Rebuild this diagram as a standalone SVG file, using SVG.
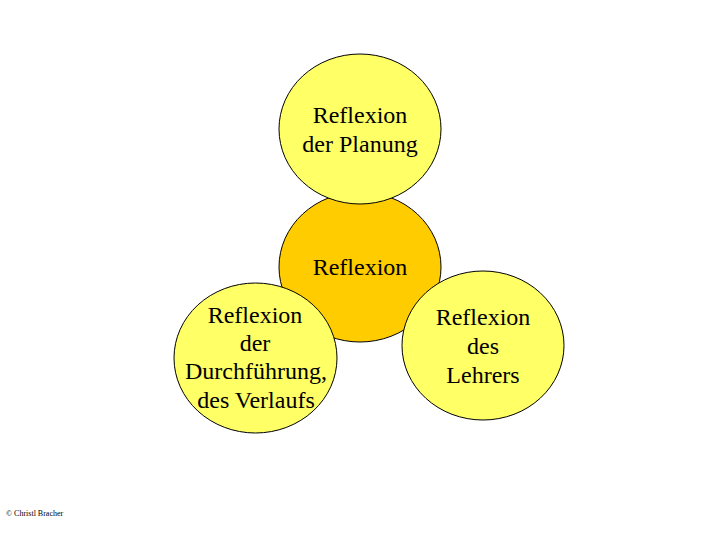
<svg xmlns="http://www.w3.org/2000/svg" width="720" height="540" viewBox="0 0 720 540">
<style>
.c{stroke:#000;stroke-width:1}
.y{fill:#FFFF66}
.o{fill:#FFCC00}
text{font-family:"Liberation Serif","Times New Roman",serif;font-size:24px;fill:#000;text-anchor:middle}
.s{font-size:8px;text-anchor:start}
</style>
<rect width="720" height="540" fill="#fff"/>
<g id="center">
<ellipse class="c o" cx="360" cy="267" rx="81" ry="75"/>
<text x="360" y="275">Reflexion</text>
</g>
<g id="top">
<ellipse class="c y" cx="360" cy="129" rx="81" ry="75"/>
<text x="360" y="123">Reflexion</text>
<text x="360" y="152">der Planung</text>
</g>
<g id="left">
<ellipse class="c y" cx="255.5" cy="358" rx="81.5" ry="75"/>
<text x="255" y="323">Reflexion</text>
<text x="255" y="351">der</text>
<text x="256" y="379">Durchführung,</text>
<text x="256" y="408">des Verlaufs</text>
</g>
<g id="right">
<ellipse class="c y" cx="483" cy="345.5" rx="81" ry="74.5"/>
<text x="483" y="325">Reflexion</text>
<text x="483" y="354">des</text>
<text x="483" y="383">Lehrers</text>
</g>
<g id="connectors"/>
<text class="s" x="6" y="516">© Christl Bracher</text>
</svg>
